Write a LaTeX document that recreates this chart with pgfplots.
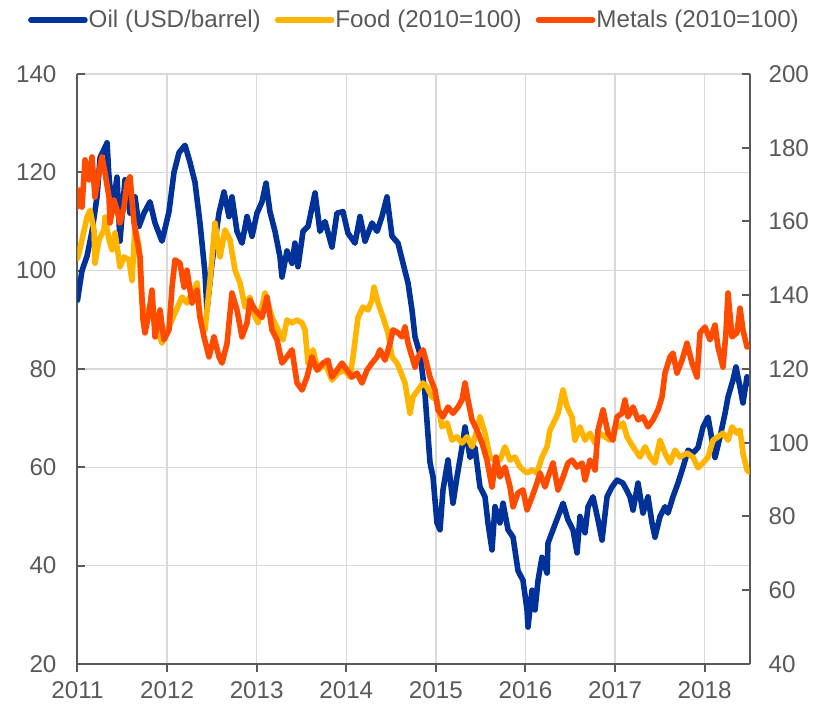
\documentclass[border=0pt]{standalone}
\usepackage{pgfplots}
\pgfplotsset{compat=1.18}
\usepackage{fontspec}
\setmainfont{Liberation Sans}
\definecolor{oilc}{RGB}{0,50,153}
\definecolor{foodc}{RGB}{255,180,0}
\definecolor{metc}{RGB}{255,75,0}
\definecolor{txtg}{RGB}{89,89,89}
\definecolor{axg}{RGB}{89,89,89}
\definecolor{grd}{RGB}{217,217,217}
\pgfplotsset{
 base/.style={
  scale only axis, width=336pt, height=295pt,
  xmin=2011, xmax=2018.5,
  font=\fontsize{12.1}{14.5}\selectfont,
  /pgf/number format/assume math mode=true,
  tick label style={text=txtg},
  axis line style={draw=axg, line width=1pt},
  major tick length=4pt,
  tick style={draw=axg, line width=1pt},
 },
 ser/.style={line width=2.8pt, line join=round, line cap=round, color=#1},
}
\begin{document}
\begin{tikzpicture}
\useasboundingbox (-38.75pt,-23pt) rectangle (370.25pt,332pt);
\begin{axis}[base, at={(0,0)}, anchor=south west,
 ymin=20, ymax=140, ytick={20,40,...,140},
 xtick={2011,2012,...,2018},
 x tick label style={/pgf/number format/1000 sep={}, yshift=-1.5pt},
 axis x line*=bottom, axis y line*=left,
 xtick align=outside, ytick align=inside,
 xmajorgrids, ymajorgrids, grid style={draw=grd, line width=0.75pt},
 yticklabel style={xshift=-7pt},
]
\addplot[ser=oilc] coordinates {
(2011.000,94) (2011.050,100) (2011.107,103) (2011.162,108) (2011.218,115) (2011.252,123) (2011.330,126) (2011.348,120) (2011.385,112) (2011.441,119) (2011.474,106) (2011.530,118.5) (2011.586,111.7) (2011.642,115) (2011.686,109) (2011.742,111.7) (2011.809,114) (2011.865,109.7) (2011.943,106)
(2012.021,112) (2012.077,120) (2012.133,124) (2012.200,125.5) (2012.256,122) (2012.311,118) (2012.367,109.7) (2012.423,99.5) (2012.445,92) (2012.501,101.5) (2012.579,111.7) (2012.635,116) (2012.691,111) (2012.724,115) (2012.780,108) (2012.836,105.6) (2012.892,111) (2012.948,107)
(2013.003,111.7) (2013.059,114) (2013.104,117.8) (2013.148,112) (2013.204,108) (2013.260,102.8) (2013.282,98.7) (2013.338,104) (2013.394,101.5) (2013.427,105.6) (2013.461,100.8) (2013.517,108) (2013.573,109) (2013.651,115.8) (2013.706,108) (2013.762,110) (2013.840,104.8) (2013.896,111.7) (2013.963,112)
(2014.019,107.6) (2014.097,105.6) (2014.153,111) (2014.209,106) (2014.287,109.7) (2014.343,108) (2014.398,111) (2014.454,115) (2014.510,107) (2014.577,105.6) (2014.633,101.5) (2014.689,97.5) (2014.733,92) (2014.767,86.5) (2014.823,83) (2014.878,75) (2014.934,61) (2014.968,58)
(2015.012,48.7) (2015.046,47.3) (2015.079,55.4) (2015.135,61.5) (2015.191,52.7) (2015.235,58) (2015.291,64) (2015.325,68.2) (2015.381,62) (2015.436,64) (2015.492,56) (2015.548,54) (2015.581,48.7) (2015.626,43.2) (2015.660,52) (2015.715,48.7) (2015.749,52.7) (2015.805,47.3) (2015.861,45.8) (2015.916,39) (2015.972,37)
(2016.017,31) (2016.028,27.5) (2016.073,35) (2016.106,31) (2016.140,37) (2016.184,41.7) (2016.240,38.5) (2016.251,44.6) (2016.307,47.3) (2016.363,50) (2016.419,52.7) (2016.474,49.3) (2016.530,47.3) (2016.575,42.6) (2016.608,50) (2016.664,46.7) (2016.698,52) (2016.753,54) (2016.809,49.3) (2016.854,45.2) (2016.910,54) (2016.965,56)
(2017.021,57.4) (2017.088,56.8) (2017.166,54) (2017.200,51.3) (2017.256,56.8) (2017.311,50.7) (2017.367,54) (2017.412,48.7) (2017.445,45.8) (2017.501,50) (2017.557,52) (2017.590,50.7) (2017.646,54) (2017.702,56.8) (2017.758,60) (2017.814,63.5) (2017.869,62.9) (2017.925,64) (2017.981,68.2)
(2018.037,70.2) (2018.081,65.6) (2018.115,62) (2018.171,66.2) (2018.227,71) (2018.260,74.3) (2018.316,77.8) (2018.349,80.4) (2018.394,76.3) (2018.427,73.1) (2018.472,78.4) (2018.500,77)
};
\end{axis}
\begin{axis}[base, at={(0,0)}, anchor=south west,
 ymin=40, ymax=200, ytick={40,60,...,200},
 axis y line*=right, axis x line=none, xtick=\empty,
 ytick align=inside,
 yticklabel style={xshift=6pt},
 legend style={at={(0.5,1.0915)}, anchor=center, draw=none, fill=none,
   legend columns=3, column sep=0.5pt, text=txtg,
   /tikz/every even column/.append style={column sep=7pt},
   nodes={inner sep=0pt}},
 legend image code/.code={\draw[#1] (0pt,0pt) -- (27pt,0pt);},
]
\addlegendimage{ser=oilc}
\addlegendentry{Oil (USD/barrel)}
\addplot[ser=foodc] coordinates {
(2011.000,150) (2011.017,151.5) (2011.050,155) (2011.106,161.2) (2011.140,163) (2011.184,157.7) (2011.195,148.7) (2011.240,155) (2011.296,157.7) (2011.307,161.2) (2011.352,155) (2011.385,152.3) (2011.419,156.9) (2011.474,147.7) (2011.519,150.4) (2011.575,149.6) (2011.608,144) (2011.642,158.5) (2011.686,153) (2011.720,137.9) (2011.776,134) (2011.831,136) (2011.887,130.6) (2011.943,127)
(2012.021,131.4) (2012.088,135.2) (2012.166,139.5) (2012.222,137.9) (2012.278,140.6) (2012.334,143.3) (2012.367,134) (2012.423,130.6) (2012.479,144) (2012.535,159.6) (2012.590,150.4) (2012.646,157.7) (2012.702,155) (2012.758,146.8) (2012.814,143.3) (2012.869,136.8) (2012.925,139.5) (2012.948,136)
(2013.015,132.5) (2013.093,140.6) (2013.171,134) (2013.238,130.6) (2013.294,127.9) (2013.338,133.3) (2013.394,132.5) (2013.450,133.3) (2013.506,132.5) (2013.539,130.6) (2013.573,121.6) (2013.628,125.2) (2013.684,119.7) (2013.762,121.6) (2013.840,117) (2013.907,118.9) (2013.985,119.7)
(2014.041,117.8) (2014.075,123.3) (2014.131,134) (2014.186,136.8) (2014.242,136) (2014.287,138.7) (2014.309,142.2) (2014.354,137.9) (2014.410,134) (2014.465,129.8) (2014.510,123.3) (2014.566,121.6) (2014.599,119.7) (2014.655,116.2) (2014.711,108) (2014.744,112.4) (2014.800,114.3) (2014.856,116.2) (2014.901,115.1) (2014.956,112.4)
(2015.012,111.6) (2015.068,104.3) (2015.124,105.4) (2015.180,100.7) (2015.235,101.6) (2015.291,99.9) (2015.347,101.6) (2015.403,98.9) (2015.459,103.4) (2015.492,107) (2015.548,102.6) (2015.604,96.1) (2015.660,95.3) (2015.715,95.3) (2015.771,98.9) (2015.827,95.3) (2015.883,96.1) (2015.939,93.4)
(2016.017,91.8) (2016.073,92.6) (2016.128,91.8) (2016.184,96.1) (2016.240,98.9) (2016.273,103.4) (2016.329,106.2) (2016.363,108) (2016.419,114.3) (2016.463,109.8) (2016.519,107) (2016.552,100.7) (2016.608,104.3) (2016.664,100.7) (2016.720,102.6) (2016.776,99.9) (2016.831,102.6) (2016.887,101.6) (2016.943,100.7) (2016.999,104.3)
(2017.055,104.3) (2017.088,105.4) (2017.133,101.6) (2017.200,98.9) (2017.278,96.1) (2017.334,98.9) (2017.390,96.1) (2017.445,94.5) (2017.501,100.7) (2017.557,97.2) (2017.613,94.5) (2017.669,98) (2017.724,96.1) (2017.802,97.2) (2017.869,96.1) (2017.925,93.2) (2017.981,94.5)
(2018.037,96.1) (2018.093,100.7) (2018.148,101.6) (2018.204,102.6) (2018.260,100.7) (2018.305,104.3) (2018.360,102.6) (2018.394,103.4) (2018.427,97.2) (2018.472,92.6) (2018.500,92)
};
\addlegendentry{Food (2010=100)}
\addplot[ser=metc] coordinates {
(2011.000,164) (2011.017,168.5) (2011.050,163.9) (2011.084,176.7) (2011.128,171.3) (2011.162,177.5) (2011.195,166.6) (2011.240,173.2) (2011.273,177.5) (2011.307,173.2) (2011.352,166.6) (2011.363,159.6) (2011.407,165.8) (2011.441,163.1) (2011.474,159.6) (2011.519,163.9) (2011.552,170.4) (2011.586,172.1) (2011.631,159.6) (2011.664,155) (2011.698,150.4) (2011.731,133.3) (2011.753,129.8) (2011.798,135.2) (2011.831,141.4) (2011.865,128.7) (2011.921,136) (2011.965,127.9)
(2012.021,130.6) (2012.055,142.2) (2012.088,149.6) (2012.144,148.7) (2012.189,142.2) (2012.222,146.8) (2012.278,137.9) (2012.334,141.4) (2012.367,134) (2012.412,128.7) (2012.468,123.3) (2012.523,128.7) (2012.579,123.3) (2012.613,121.6) (2012.669,127) (2012.724,140.6) (2012.780,136) (2012.836,128.7) (2012.892,132.5) (2012.925,138.7) (2012.981,136)
(2013.059,134) (2013.115,139.5) (2013.171,130.6) (2013.227,127.9) (2013.282,121.6) (2013.338,123.3) (2013.394,125.2) (2013.450,116.2) (2013.506,114.3) (2013.561,117.8) (2013.617,123.3) (2013.673,119.7) (2013.740,121.6) (2013.796,122.4) (2013.840,117.8) (2013.896,119.7) (2013.952,121.6)
(2014.008,119.7) (2014.064,117.8) (2014.119,118.9) (2014.175,116.2) (2014.231,119.7) (2014.287,121.6) (2014.343,123.3) (2014.376,125.2) (2014.432,122.4) (2014.488,127) (2014.521,130.6) (2014.577,129.8) (2014.622,128.7) (2014.655,131.4) (2014.689,127) (2014.733,123.3) (2014.767,120.5) (2014.800,123.3) (2014.856,125.2) (2014.878,123.3) (2014.934,117.8) (2014.990,114.3)
(2015.023,108.9) (2015.079,107) (2015.135,109.7) (2015.191,108) (2015.247,109.7) (2015.291,111.6) (2015.325,116.2) (2015.358,111.6) (2015.403,106.2) (2015.459,103.4) (2015.515,99.9) (2015.570,95.3) (2015.626,88) (2015.671,96.1) (2015.715,90.7) (2015.771,93.4) (2015.827,88) (2015.861,82.6) (2015.916,86.4) (2015.972,87.2)
(2016.017,81.8) (2016.073,85.3) (2016.128,89.1) (2016.162,91.8) (2016.218,88) (2016.251,90.7) (2016.307,94.5) (2016.363,87.2) (2016.419,90.7) (2016.474,94.5) (2016.519,95.3) (2016.575,93.4) (2016.631,94.5) (2016.664,89.9) (2016.720,95.3) (2016.776,92.6) (2016.809,103.4) (2016.865,108.9) (2016.921,102.6) (2016.976,100.7)
(2017.021,107) (2017.077,108) (2017.110,111.6) (2017.144,107) (2017.200,109.7) (2017.256,106.2) (2017.311,107) (2017.367,104.3) (2017.423,106.2) (2017.479,108.9) (2017.523,112.4) (2017.557,118.9) (2017.613,123.3) (2017.646,124.3) (2017.691,118.9) (2017.747,122.4) (2017.802,127) (2017.858,121.6) (2017.914,117.8) (2017.948,129.8)
(2018.003,131.4) (2018.059,127.9) (2018.115,131.9) (2018.148,126) (2018.204,120.5) (2018.237,129.8) (2018.260,140.6) (2018.305,128.7) (2018.360,129.8) (2018.394,136.5) (2018.427,130.6) (2018.472,126) (2018.500,126)
};
\addlegendentry{Metals (2010=100)}
\end{axis}
\end{tikzpicture}
\end{document}
